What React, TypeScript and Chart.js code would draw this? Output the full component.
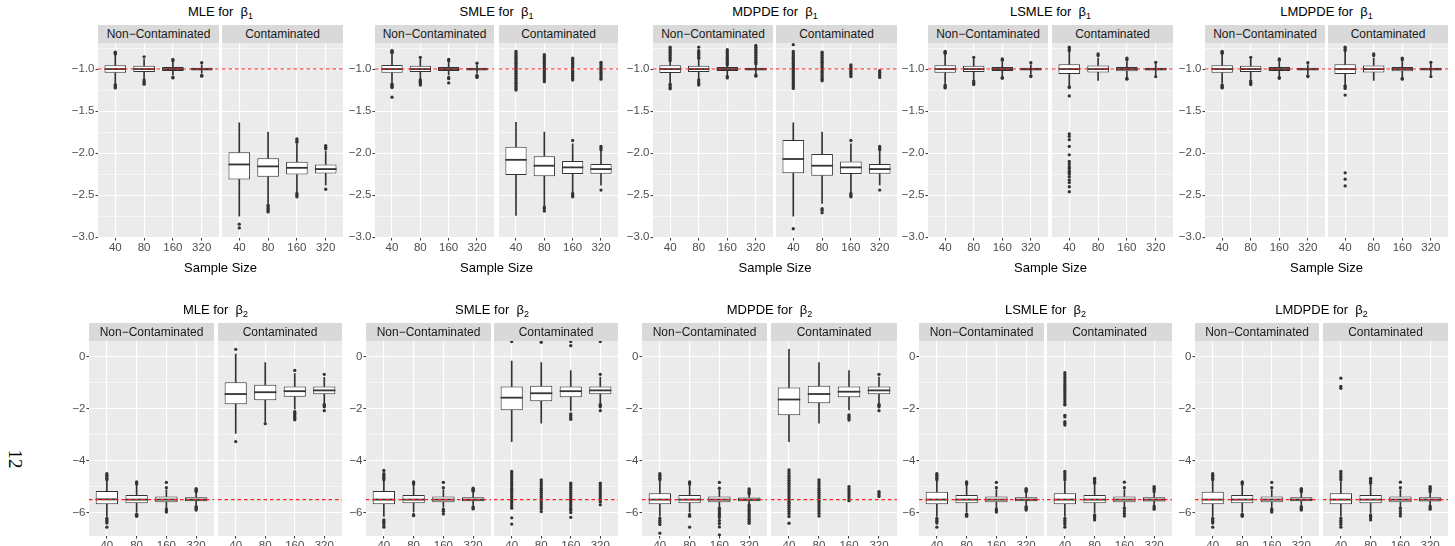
import React, { useEffect, useRef } from "react";
import { Chart, registerables } from "chart.js";

Chart.register(...registerables);

// ---------------- data ----------------
const SAMPLE_SIZES = ["40", "80", "160", "320"];
const FACET_LABELS = ["Non\u2212Contaminated", "Contaminated"];
const ESTIMATORS = ["MLE", "SMLE", "MDPDE", "LSMLE", "LMDPDE"];
const X_TITLE = "Sample Size";
const PAGE_NUMBER = "12";

const B1_TICKS = [-3, -2.75, -2.5, -2.25, -2, -1.75, -1.5, -1.25, -1, -0.75];
const B1_LABELED = [-3, -2.5, -2, -1.5, -1];
const B1_RANGE = [-3.01, -0.69];
const B1_TRUE = -1.0;

const B2_TICKS = [-6, -5, -4, -3, -2, -1, 0];
const B2_LABELED = [-6, -4, -2, 0];
const B2_RANGE = [-6.9, 0.6];
const B2_TRUE = -5.5;

// box stats per sample size: [lower whisker, Q1, median, Q3, upper whisker]
// ---- beta 1 ----
const MLE_B1_NC_BOX = [[-1.17, -1.045, -1.0, -0.955, -0.83], [-1.11, -1.035, -1.0, -0.962, -0.88], [-1.07, -1.022, -1.0, -0.975, -0.92], [-1.05, -1.016, -1.0, -0.983, -0.95]];
const MLE_B1_NC_OUT = [[-0.8, -0.81, -0.82, -1.185, -1.2, -1.21, -1.225], [-0.855, -1.13, -1.15, -1.165, -1.18], [-0.885, -0.9, -1.095, -1.105], [-0.925, -1.075, -1.085]];
const MLE_B1_C_BOX = [[-2.75, -2.313, -2.135, -1.99, -1.64], [-2.6, -2.282, -2.158, -2.06, -1.75], [-2.47, -2.254, -2.175, -2.104, -1.89], [-2.38, -2.242, -2.19, -2.135, -1.98]];
const MLE_B1_C_OUT = [[-2.845, -2.89], [-2.62, -2.64, -2.66, -2.68, -2.7], [-1.83, -1.85, -1.87, -2.48, -2.5, -2.52], [-1.91, -1.93, -1.95, -2.43]];

const SMLE_B1_NC_BOX = [[-1.17, -1.045, -1.0, -0.953, -0.83], [-1.12, -1.035, -1.0, -0.962, -0.88], [-1.07, -1.022, -1.0, -0.975, -0.92], [-1.05, -1.016, -1.0, -0.983, -0.95]];
const SMLE_B1_NC_OUT = [[-0.78, -0.79, -0.8, -0.81, -1.18, -1.19, -1.2, -1.21, -1.22, -1.335], [-0.86, -1.13, -1.145, -1.16, -1.175, -1.19], [-0.885, -0.9, -1.1, -1.115, -1.165], [-0.93, -1.075, -1.09, -1.1]];
const SMLE_B1_C_BOX = [[-2.74, -2.26, -2.08, -1.925, -1.635], [-2.62, -2.274, -2.15, -2.036, -1.75], [-2.46, -2.25, -2.17, -2.095, -1.89], [-2.38, -2.245, -2.19, -2.13, -1.98]];
const SMLE_B1_C_OUT = [
  [-0.79, -0.81, -0.83, -0.85, -0.87, -0.89, -0.91, -0.93, -0.95, -0.97, -0.99, -1.01, -1.03, -1.05, -1.07, -1.09, -1.11, -1.13, -1.15, -1.17, -1.19, -1.21, -1.23, -1.25],
  [-0.83, -0.85, -0.87, -0.89, -0.91, -0.93, -0.95, -0.97, -0.99, -1.01, -1.03, -1.05, -1.07, -1.09, -1.11, -1.13, -1.15, -2.64, -2.66, -2.69],
  [-0.87, -0.89, -0.91, -0.93, -0.95, -0.97, -0.99, -1.01, -1.03, -1.05, -1.07, -1.09, -1.11, -1.13, -1.85, -2.48, -2.5, -2.52],
  [-0.92, -0.94, -0.96, -0.98, -1.0, -1.02, -1.04, -1.06, -1.08, -1.1, -1.12, -1.92, -1.94, -1.96, -2.44],
];

const MDPDE_B1_NC_BOX = [[-1.17, -1.048, -1.0, -0.955, -0.92], [-1.12, -1.036, -1.0, -0.962, -0.88], [-1.08, -1.022, -1.0, -0.976, -0.96], [-1.06, -1.016, -1.0, -0.984, -0.96]];
const MDPDE_B1_NC_OUT = [
  [-0.74, -0.76, -0.78, -0.8, -0.82, -0.84, -0.86, -0.88, -0.9, -1.18, -1.2, -1.22, -1.235],
  [-0.74, -0.78, -0.8, -0.82, -0.84, -0.86, -0.87, -1.13, -1.15, -1.17, -1.19],
  [-0.77, -0.79, -0.81, -0.83, -0.85, -0.87, -0.89, -0.91, -0.93, -0.95, -1.09, -1.105],
  [-0.72, -0.74, -0.76, -0.78, -0.8, -0.82, -0.84, -0.86, -0.88, -0.9, -0.92, -0.94, -1.07, -1.085],
];
const MDPDE_B1_C_BOX = [[-2.75, -2.24, -2.07, -1.845, -1.64], [-2.6, -2.27, -2.15, -2.01, -1.75], [-2.46, -2.25, -2.17, -2.1, -1.89], [-2.38, -2.245, -2.19, -2.13, -1.98]];
const MDPDE_B1_C_OUT = [
  [-0.71, -0.79, -0.81, -0.83, -0.85, -0.87, -0.89, -0.91, -0.93, -0.95, -0.97, -0.99, -1.01, -1.03, -1.05, -1.07, -1.09, -1.11, -1.13, -1.15, -1.17, -1.19, -1.21, -1.23, -2.9],
  [-0.8, -0.82, -0.84, -0.86, -0.88, -0.9, -0.92, -0.94, -0.96, -0.98, -1.0, -1.02, -1.04, -1.06, -1.08, -1.1, -1.12, -1.14, -2.66, -2.68, -2.71],
  [-0.95, -0.97, -0.99, -1.01, -1.03, -1.05, -1.07, -1.09, -1.85, -2.48, -2.5, -2.52],
  [-1.02, -1.04, -1.06, -1.08, -1.1, -1.92, -1.94, -1.96, -2.44],
];

const LSMLE_B1_NC_BOX = [[-1.17, -1.045, -1.0, -0.955, -0.83], [-1.12, -1.035, -1.0, -0.962, -0.88], [-1.08, -1.022, -1.0, -0.975, -0.92], [-1.06, -1.016, -1.0, -0.983, -0.95]];
const LSMLE_B1_NC_OUT = [[-0.79, -0.8, -0.815, -1.19, -1.2, -1.215, -1.225], [-0.86, -1.14, -1.155, -1.17, -1.185], [-0.88, -0.895, -1.1, -1.11], [-0.925, -1.08, -1.09]];
const LSMLE_B1_C_BOX = [[-1.19, -1.058, -1.0, -0.944, -0.79], [-1.135, -1.04, -1.0, -0.957, -0.87], [-1.095, -1.025, -1.0, -0.975, -0.91], [-1.07, -1.016, -1.0, -0.984, -0.935]];
const LSMLE_B1_C_OUT = [
  [-0.74, -0.76, -0.78, -1.21, -1.22, -1.32, -1.77, -1.8, -1.84, -1.92, -2.02, -2.1, -2.13, -2.16, -2.18, -2.21, -2.23, -2.25, -2.28, -2.32, -2.35, -2.4, -2.46],
  [-0.82, -0.84],
  [-0.87, -0.89, -1.11, -1.12],
  [-0.92, -1.09],
];

const LMDPDE_B1_NC_BOX = [[-1.17, -1.045, -1.0, -0.955, -0.83], [-1.12, -1.035, -1.0, -0.962, -0.88], [-1.08, -1.022, -1.0, -0.975, -0.92], [-1.06, -1.016, -1.0, -0.983, -0.95]];
const LMDPDE_B1_NC_OUT = [[-0.79, -0.8, -0.815, -1.19, -1.2, -1.215, -1.225], [-0.86, -1.14, -1.155, -1.17, -1.185], [-0.88, -0.895, -1.1, -1.11], [-0.925, -1.08, -1.09]];
const LMDPDE_B1_C_BOX = [[-1.19, -1.058, -1.0, -0.944, -0.79], [-1.135, -1.04, -1.0, -0.957, -0.87], [-1.095, -1.025, -1.0, -0.975, -0.91], [-1.07, -1.016, -1.0, -0.984, -0.935]];
const LMDPDE_B1_C_OUT = [[-0.74, -0.76, -0.78, -1.2, -1.21, -1.23, -1.31, -2.235, -2.31, -2.39], [-0.82, -0.84], [-0.87, -0.89, -1.11, -1.12], [-0.92, -1.09]];

// ---- beta 2 ----
const MLE_B2_NC_BOX = [[-6.15, -5.68, -5.49, -5.17, -4.8], [-5.98, -5.64, -5.5, -5.32, -4.95], [-5.8, -5.6, -5.5, -5.38, -5.12], [-5.72, -5.56, -5.5, -5.41, -5.24]];
const MLE_B2_NC_OUT = [[-4.5, -4.56, -4.62, -4.68, -4.74, -6.22, -6.28, -6.34, -6.4, -6.56], [-4.82, -4.86, -4.9, -6.06, -6.1, -6.14], [-4.84, -5.04, -5.86, -5.92, -5.98], [-5.08, -5.12, -5.16, -5.2, -5.77, -5.81, -5.85, -5.9]];
const MLE_B2_C_BOX = [[-2.95, -1.83, -1.44, -0.99, 0.1], [-2.5, -1.68, -1.37, -1.08, -0.23], [-2.02, -1.54, -1.33, -1.15, -0.65], [-1.78, -1.45, -1.3, -1.15, -0.8]];
const MLE_B2_C_OUT = [[0.28, -3.27], [-2.58], [-0.53, -2.12, -2.18, -2.24, -2.3, -2.37, -2.43], [-0.68, -1.84, -1.88, -1.93, -2.08]];

const SMLE_B2_NC_BOX = [[-6.15, -5.68, -5.5, -5.17, -4.8], [-5.98, -5.64, -5.5, -5.32, -4.95], [-5.8, -5.6, -5.5, -5.38, -5.12], [-5.72, -5.56, -5.5, -5.41, -5.24]];
const SMLE_B2_NC_OUT = [[-4.38, -4.5, -4.56, -4.62, -4.68, -4.74, -6.28, -6.34, -6.4, -6.48, -6.56], [-4.82, -4.86, -4.9, -6.08, -6.12], [-4.84, -5.04, -5.88, -5.95, -6.05], [-5.06, -5.1, -5.14, -5.18, -5.78, -5.82, -5.86]];
const SMLE_B2_C_BOX = [[-3.27, -2.06, -1.58, -1.15, -0.17], [-2.56, -1.72, -1.41, -1.12, -0.23], [-2.08, -1.56, -1.33, -1.15, -0.54], [-1.78, -1.45, -1.3, -1.15, -0.79]];
const SMLE_B2_C_OUT = [
  [0.58, -4.42, -4.5, -4.58, -4.66, -4.74, -4.82, -4.9, -4.98, -5.06, -5.14, -5.22, -5.3, -5.38, -5.46, -5.54, -5.62, -5.7, -5.78, -5.83, -6.2, -6.44],
  [0.55, -4.74, -4.82, -4.9, -4.98, -5.06, -5.14, -5.22, -5.3, -5.38, -5.46, -5.54, -5.62, -5.7, -5.78, -5.86, -5.96],
  [0.58, 0.42, -2.2, -2.27, -2.34, -2.41, -4.87, -4.95, -5.03, -5.11, -5.19, -5.27, -5.35, -5.43, -5.51, -5.59, -5.67, -5.75, -5.83, -5.91, -6.0, -6.18],
  [0.58, -0.68, -1.84, -1.88, -1.93, -2.08, -4.87, -4.95, -5.03, -5.11, -5.19, -5.27, -5.35, -5.43, -5.51, -5.59, -5.7],
];

const MDPDE_B2_NC_BOX = [[-6.15, -5.68, -5.5, -5.26, -4.8], [-5.98, -5.64, -5.5, -5.32, -4.95], [-5.8, -5.6, -5.5, -5.38, -5.12], [-5.72, -5.56, -5.5, -5.42, -5.3]];
const MDPDE_B2_NC_OUT = [
  [-4.5, -4.56, -4.62, -4.68, -4.74, -6.22, -6.3, -6.38, -6.46, -6.79],
  [-4.82, -4.86, -4.9, -6.08, -6.14, -6.56],
  [-4.84, -5.06, -5.83, -5.9, -5.97, -6.04, -6.11, -6.18, -6.3, -6.42, -6.55, -6.86],
  [-5.09, -5.16, -5.22, -5.28, -5.7, -5.77, -5.84, -5.91, -5.98, -6.05, -6.12, -6.19, -6.26, -6.33, -6.41],
];
const MDPDE_B2_C_BOX = [[-3.27, -2.26, -1.65, -1.19, 0.28], [-2.56, -1.79, -1.44, -1.12, -0.23], [-2.05, -1.56, -1.35, -1.15, -0.54], [-1.78, -1.45, -1.3, -1.15, -0.79]];
const MDPDE_B2_C_OUT = [
  [-4.36, -4.44, -4.52, -4.6, -4.68, -4.76, -4.84, -4.92, -5.0, -5.08, -5.16, -5.24, -5.32, -5.4, -5.48, -5.56, -5.64, -5.72, -5.8, -5.88, -5.96, -6.04, -6.15, -6.41],
  [-4.74, -4.82, -4.9, -4.98, -5.06, -5.14, -5.22, -5.3, -5.38, -5.46, -5.54, -5.62, -5.7, -5.78, -5.86, -5.94, -6.03, -6.13],
  [-2.24, -2.3, -2.37, -2.44, -5.0, -5.08, -5.16, -5.24, -5.32, -5.4, -5.48, -5.54],
  [-0.68, -1.84, -1.88, -1.93, -2.08, -5.19, -5.25, -5.31, -5.38],
];

const LSMLE_B2_NC_BOX = [[-6.15, -5.68, -5.5, -5.2, -4.8], [-5.98, -5.64, -5.5, -5.32, -4.95], [-5.8, -5.6, -5.5, -5.38, -5.12], [-5.72, -5.56, -5.5, -5.41, -5.24]];
const LSMLE_B2_NC_OUT = [[-4.5, -4.56, -4.62, -4.68, -4.74, -6.22, -6.28, -6.34, -6.4, -6.56], [-4.82, -4.86, -4.9, -6.06, -6.1, -6.14], [-4.84, -5.04, -5.86, -5.92, -5.98], [-5.08, -5.12, -5.16, -5.2, -5.77, -5.81, -5.85, -5.9]];
const LSMLE_B2_C_BOX = [[-6.15, -5.68, -5.5, -5.26, -4.81], [-6.0, -5.64, -5.5, -5.32, -4.92], [-5.8, -5.6, -5.5, -5.38, -5.12], [-5.7, -5.57, -5.5, -5.41, -5.24]];
const LSMLE_B2_C_OUT = [
  [-0.62, -0.7, -0.78, -0.86, -0.94, -1.02, -1.1, -1.18, -1.26, -1.34, -1.42, -1.5, -1.58, -1.66, -1.74, -1.82, -1.86, -2.26, -2.32, -2.5, -2.56, -2.63, -4.42, -4.5, -4.58, -4.66, -4.74, -6.22, -6.3, -6.38, -6.46, -6.56],
  [-4.68, -4.74, -4.8, -4.87, -6.09, -6.15, -6.21, -6.28],
  [-4.83, -5.04, -5.83, -5.93, -6.03, -6.13],
  [-5.0, -5.06, -5.12, -5.19, -5.75, -5.81, -5.87],
];

const LMDPDE_B2_NC_BOX = [[-6.15, -5.68, -5.5, -5.2, -4.8], [-5.98, -5.64, -5.5, -5.32, -4.95], [-5.8, -5.6, -5.5, -5.38, -5.12], [-5.72, -5.56, -5.5, -5.41, -5.24]];
const LMDPDE_B2_NC_OUT = [[-4.5, -4.56, -4.62, -4.68, -4.74, -6.22, -6.28, -6.34, -6.4, -6.56], [-4.82, -4.86, -4.9, -6.06, -6.1, -6.14], [-4.84, -5.04, -5.86, -5.92, -5.98], [-5.08, -5.12, -5.16, -5.2, -5.77, -5.81, -5.85, -5.9]];
const LMDPDE_B2_C_BOX = [[-6.15, -5.68, -5.5, -5.26, -4.81], [-6.0, -5.64, -5.5, -5.32, -4.92], [-5.8, -5.6, -5.5, -5.38, -5.12], [-5.7, -5.57, -5.5, -5.41, -5.24]];
const LMDPDE_B2_C_OUT = [
  [-0.83, -1.15, -1.22, -4.42, -4.5, -4.58, -4.66, -4.74, -6.22, -6.3, -6.38, -6.46, -6.56],
  [-4.68, -4.74, -4.8, -4.87, -6.09, -6.15, -6.21, -6.28],
  [-4.83, -5.04, -5.83, -5.93, -6.03, -6.13],
  [-5.0, -5.06, -5.12, -5.19, -5.75, -5.81, -5.87],
];

// ---------------- tables built from the arrays ----------------
const B1_FACETS = [
  [[MLE_B1_NC_BOX, MLE_B1_NC_OUT], [MLE_B1_C_BOX, MLE_B1_C_OUT]],
  [[SMLE_B1_NC_BOX, SMLE_B1_NC_OUT], [SMLE_B1_C_BOX, SMLE_B1_C_OUT]],
  [[MDPDE_B1_NC_BOX, MDPDE_B1_NC_OUT], [MDPDE_B1_C_BOX, MDPDE_B1_C_OUT]],
  [[LSMLE_B1_NC_BOX, LSMLE_B1_NC_OUT], [LSMLE_B1_C_BOX, LSMLE_B1_C_OUT]],
  [[LMDPDE_B1_NC_BOX, LMDPDE_B1_NC_OUT], [LMDPDE_B1_C_BOX, LMDPDE_B1_C_OUT]],
];
const B2_FACETS = [
  [[MLE_B2_NC_BOX, MLE_B2_NC_OUT], [MLE_B2_C_BOX, MLE_B2_C_OUT]],
  [[SMLE_B2_NC_BOX, SMLE_B2_NC_OUT], [SMLE_B2_C_BOX, SMLE_B2_C_OUT]],
  [[MDPDE_B2_NC_BOX, MDPDE_B2_NC_OUT], [MDPDE_B2_C_BOX, MDPDE_B2_C_OUT]],
  [[LSMLE_B2_NC_BOX, LSMLE_B2_NC_OUT], [LSMLE_B2_C_BOX, LSMLE_B2_C_OUT]],
  [[LMDPDE_B2_NC_BOX, LMDPDE_B2_NC_OUT], [LMDPDE_B2_C_BOX, LMDPDE_B2_C_OUT]],
];

// ---------------- layout (pixels) ----------------
const FONT = "'Liberation Sans', Arial, Helvetica, sans-serif";
const Y_AXIS_W = 44;
const X_AXIS_H = 22;
const TOP_ROW = { titleY: 12, stripTop: 25, plotTop: 43, plotBottom: 238, xTitleY: 268 };
const BOTTOM_ROW = { titleY: 310, stripTop: 323, plotTop: 341, plotBottom: 536, xTitleY: 566 };
const TOP_FACET_X = [[98, 219, 222, 343], [375, 494, 499, 618], [653, 773, 776, 897], [928, 1048, 1052, 1173], [1205, 1325, 1328, 1448]];
const BOTTOM_FACET_X = [[89, 214, 218, 342], [366, 491, 494, 618], [642, 767, 771, 897], [919, 1044, 1047, 1172], [1195, 1319, 1323, 1448]];

const panelBackground = {
  id: "panelBackground",
  beforeDraw(chart: any) {
    const { ctx, chartArea: a } = chart;
    ctx.save();
    ctx.fillStyle = "#EBEBEB";
    ctx.fillRect(a.left, a.top, a.right - a.left, a.bottom - a.top);
    ctx.restore();
  },
};

type FacetProps = {
  x0: number; x1: number; top: number; bottom: number;
  boxes: number[][]; outliers: number[][];
  range: number[]; ticks: number[]; labeled: number[]; decimals: number;
  trueValue: number; showY: boolean;
};

function Facet(p: FacetProps) {
  const ref = useRef<HTMLCanvasElement | null>(null);
  const plotW = p.x1 - p.x0;
  const plotH = p.bottom - p.top;
  const yW = p.showY ? Y_AXIS_W : 0;
  const cw = plotW + yW;
  const ch = plotH + X_AXIS_H;

  useEffect(() => {
    const n = SAMPLE_SIZES.length;
    const xMin = 0.4;
    const xMax = n + 0.6;
    const unit = plotW / (xMax - xMin);
    const pos = SAMPLE_SIZES.map((_, i) => i + 1);
    const isLabeled = (v: number) => p.labeled.some((l) => Math.abs(l - v) < 1e-9);
    const fmt = (v: number) => (v === 0 ? "0" : v.toFixed(p.decimals).replace("-", "\u2212"));
    const chart = new Chart(ref.current as HTMLCanvasElement, {
      type: "bar",
      data: {
        datasets: [
          {
            type: "line",
            data: [{ x: xMin, y: p.trueValue }, { x: xMax, y: p.trueValue }],
            borderColor: "#FF1F1F",
            borderWidth: 1.1,
            borderDash: [3.5, 3],
            pointRadius: 0,
            order: 0,
          },
          {
            type: "line",
            data: p.outliers.flatMap((list, i) => list.map((v) => ({ x: pos[i], y: v }))),
            showLine: false,
            pointRadius: 1.65,
            pointBackgroundColor: "#333333",
            pointBorderWidth: 0,
            order: 1,
          },
          {
            type: "line",
            data: p.boxes.map((b, i) => ({ x: pos[i], y: b[2] })),
            showLine: false,
            pointStyle: "line",
            pointRadius: unit * 0.375,
            pointBorderColor: "#333333",
            pointBorderWidth: 1.8,
            order: 2,
          },
          {
            type: "bar",
            data: p.boxes.map((b, i) => ({ x: pos[i], y: [b[1], b[3]] })),
            backgroundColor: "#FFFFFF",
            borderColor: "#333333",
            borderWidth: 1,
            borderSkipped: false,
            barPercentage: 0.75,
            categoryPercentage: 1,
            grouped: false,
            order: 3,
          },
          {
            type: "bar",
            data: p.boxes.map((b, i) => ({ x: pos[i], y: [b[3], b[4]] })),
            backgroundColor: "#333333",
            barThickness: 1,
            grouped: false,
            order: 4,
          },
          {
            type: "bar",
            data: p.boxes.map((b, i) => ({ x: pos[i], y: [b[0], b[1]] })),
            backgroundColor: "#333333",
            barThickness: 1,
            grouped: false,
            order: 4,
          },
        ],
      } as any,
      options: {
        animation: false,
        responsive: false,
        maintainAspectRatio: false,
        devicePixelRatio: 1,
        events: [],
        layout: { padding: 0, autoPadding: false },
        plugins: { legend: { display: false }, tooltip: { enabled: false }, title: { display: false } },
        scales: {
          x: {
            type: "linear",
            position: "bottom",
            min: xMin,
            max: xMax,
            offset: false,
            afterBuildTicks: (s: any) => { s.ticks = pos.map((v) => ({ value: v })); },
            afterFit: (s: any) => { s.height = X_AXIS_H; s.paddingLeft = 0; s.paddingRight = 0; },
            ticks: {
              callback: (_v: any, i: number) => SAMPLE_SIZES[i],
              color: "#4D4D4D",
              font: { family: FONT, size: 11.5 },
              padding: 0,
              maxRotation: 0,
              autoSkip: false,
            },
            grid: { color: "#FFFFFF", lineWidth: 1.1, drawTicks: true, tickLength: 2.5, tickColor: "#333333", tickWidth: 1, offset: false },
            border: { display: false },
          },
          y: {
            type: "linear",
            min: p.range[0],
            max: p.range[1],
            afterBuildTicks: (s: any) => { s.ticks = p.ticks.map((v) => ({ value: v })); },
            afterFit: (s: any) => { s.width = yW; s.paddingTop = 0; s.paddingBottom = 0; },
            ticks: {
              display: p.showY,
              callback: (v: any) => (isLabeled(Number(v)) ? fmt(Number(v)) : ""),
              color: "#4D4D4D",
              font: { family: FONT, size: 11.5 },
              padding: 1,
            },
            grid: {
              color: "#FFFFFF",
              lineWidth: (c: any) => (c.tick && !isLabeled(c.tick.value) ? 0.55 : 1.1),
              drawTicks: p.showY,
              tickLength: 2.5,
              tickColor: (c: any) => (c.tick && isLabeled(c.tick.value) ? "#333333" : "rgba(0,0,0,0)"),
              tickWidth: 1,
            },
            border: { display: false },
          },
        },
      } as any,
      plugins: [panelBackground],
    });
    return () => chart.destroy();
  }, []);

  return (
    <canvas
      ref={ref}
      width={cw}
      height={ch}
      style={{ position: "absolute", left: p.x0 - yW, top: p.top, width: cw, height: ch }}
    />
  );
}

function Panel({ row, fx, facets, param, range, ticks, labeled, decimals, trueValue, name }: any) {
  const center = (fx[0] + fx[3]) / 2;
  const strips = [[fx[0], fx[1]], [fx[2], fx[3]]];
  return (
    <>
      <div
        style={{
          position: "absolute", left: center - 100, width: 200, top: row.titleY - 9, height: 18,
          textAlign: "center", font: `13px ${FONT}`, lineHeight: "18px", color: "#000", whiteSpace: "nowrap",
        }}
      >
        {name} for&nbsp; β<sub style={{ fontSize: 9, verticalAlign: "-3px", lineHeight: 0 }}>{param}</sub>
      </div>
      {strips.map((s, k) => (
        <div
          key={"s" + k}
          style={{
            position: "absolute", left: s[0], width: s[1] - s[0], top: row.stripTop, height: row.plotTop - row.stripTop,
            background: "#D9D9D9", color: "#1A1A1A", font: `12px ${FONT}`, lineHeight: `${row.plotTop - row.stripTop}px`,
            textAlign: "center", whiteSpace: "nowrap", overflow: "hidden",
          }}
        >
          {FACET_LABELS[k]}
        </div>
      ))}
      {strips.map((s, k) => (
        <Facet
          key={"f" + k}
          x0={s[0]} x1={s[1]} top={row.plotTop} bottom={row.plotBottom}
          boxes={facets[k][0]} outliers={facets[k][1]}
          range={range} ticks={ticks} labeled={labeled} decimals={decimals}
          trueValue={trueValue} showY={k === 0}
        />
      ))}
      <div
        style={{
          position: "absolute", left: center - 100, width: 200, top: row.xTitleY - 9, height: 18,
          textAlign: "center", font: `13px ${FONT}`, lineHeight: "18px", color: "#000",
        }}
      >
        {X_TITLE}
      </div>
    </>
  );
}

export default function App() {
  return (
    <div
      style={{
        position: "fixed", left: 0, top: 0, width: 1455, height: 546, overflow: "hidden", background: "#FFFFFF",
      }}
    >
      {ESTIMATORS.map((name, i) => (
        <Panel
          key={"b1" + i} row={TOP_ROW} fx={TOP_FACET_X[i]} facets={B1_FACETS[i]} param="1" name={name}
          range={B1_RANGE} ticks={B1_TICKS} labeled={B1_LABELED} decimals={1} trueValue={B1_TRUE}
        />
      ))}
      {ESTIMATORS.map((name, i) => (
        <Panel
          key={"b2" + i} row={BOTTOM_ROW} fx={BOTTOM_FACET_X[i]} facets={B2_FACETS[i]} param="2" name={name}
          range={B2_RANGE} ticks={B2_TICKS} labeled={B2_LABELED} decimals={0} trueValue={B2_TRUE}
        />
      ))}
      <div
        style={{
          position: "absolute", left: 15 - 20, top: 459 - 12, width: 40, height: 24, textAlign: "center",
          font: "19px 'Liberation Serif', 'DejaVu Serif', serif", lineHeight: "24px", color: "#000",
          transform: "rotate(90deg)",
        }}
      >
        {PAGE_NUMBER}
      </div>
    </div>
  );
}
